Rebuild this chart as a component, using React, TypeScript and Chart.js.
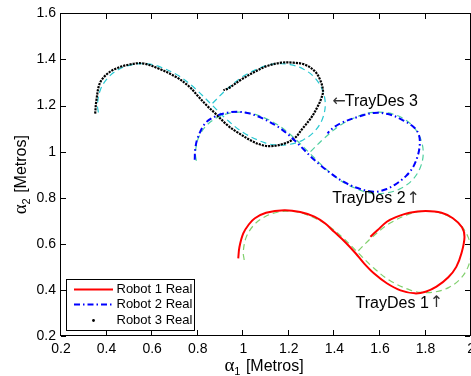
import React, { useEffect, useRef } from "react";
import { Chart, registerables } from "chart.js";

Chart.register(...registerables);

// Axis ticks
const X_TICKS = [0.2, 0.4, 0.6, 0.8, 1.0, 1.2, 1.4, 1.6, 1.8, 2.0];
const Y_TICKS = [0.2, 0.4, 0.6, 0.8, 1.0, 1.2, 1.4, 1.6];

// Desired trajectories (TrayDes), [x, y] in metres
const trayDes1: [number, number][] = [
  [1.004, 0.530], [1.000, 0.565], [1.013, 0.629], [1.047, 0.682], [1.097, 0.719],
  [1.154, 0.738], [1.211, 0.741], [1.264, 0.732], [1.357, 0.689], [1.433, 0.630],
  [1.500, 0.565], [1.567, 0.500], [1.643, 0.441], [1.736, 0.398], [1.789, 0.389],
  [1.846, 0.392], [1.903, 0.411], [1.953, 0.448], [1.987, 0.501], [2.000, 0.565],
  [1.987, 0.629], [1.953, 0.682], [1.903, 0.719], [1.846, 0.738], [1.789, 0.741],
  [1.736, 0.732], [1.643, 0.689], [1.567, 0.630], [1.500, 0.565],
];
const trayDes2: [number, number][] = [
  [0.794, 0.960], [0.790, 0.995], [0.803, 1.059], [0.837, 1.112], [0.887, 1.149],
  [0.944, 1.168], [1.001, 1.171], [1.054, 1.162], [1.147, 1.119], [1.223, 1.060],
  [1.290, 0.995], [1.357, 0.930], [1.433, 0.871], [1.526, 0.828], [1.579, 0.819],
  [1.636, 0.822], [1.693, 0.841], [1.743, 0.878], [1.777, 0.931], [1.790, 0.995],
  [1.777, 1.059], [1.743, 1.112], [1.693, 1.149], [1.636, 1.168], [1.579, 1.171],
  [1.526, 1.162], [1.433, 1.119], [1.357, 1.060], [1.290, 0.995],
];
const trayDes3: [number, number][] = [
  [0.364, 1.170], [0.360, 1.205], [0.373, 1.269], [0.407, 1.322], [0.457, 1.359],
  [0.514, 1.378], [0.571, 1.381], [0.624, 1.372], [0.717, 1.329], [0.793, 1.270],
  [0.860, 1.205], [0.927, 1.140], [1.003, 1.081], [1.096, 1.038], [1.149, 1.029],
  [1.206, 1.032], [1.263, 1.051], [1.313, 1.088], [1.347, 1.141], [1.360, 1.205],
  [1.347, 1.269], [1.313, 1.322], [1.263, 1.359], [1.206, 1.378], [1.149, 1.381],
  [1.096, 1.372], [1.003, 1.329], [0.927, 1.270], [0.860, 1.205],
];

// Measured robot paths, [x, y] in metres
const robot1Real: [number, number][] = [
  [0.978, 0.537], [0.983, 0.585], [1.000, 0.645], [1.025, 0.685], [1.051, 0.711],
  [1.100, 0.735], [1.180, 0.746], [1.250, 0.738], [1.312, 0.718], [1.360, 0.688],
  [1.399, 0.652], [1.450, 0.605], [1.493, 0.559], [1.530, 0.515], [1.573, 0.472],
  [1.630, 0.429], [1.690, 0.398], [1.753, 0.385], [1.800, 0.392], [1.848, 0.414],
  [1.900, 0.455], [1.935, 0.500], [1.958, 0.560], [1.971, 0.630], [1.960, 0.672],
  [1.920, 0.711], [1.870, 0.735], [1.800, 0.742], [1.730, 0.735], [1.670, 0.716],
  [1.630, 0.696], [1.590, 0.660], [1.558, 0.631],
];
const robot2Real: [number, number][] = [
  [0.787, 0.965], [0.789, 1.010], [0.800, 1.060], [0.833, 1.123], [0.875, 1.152],
  [0.925, 1.168], [0.978, 1.173], [1.030, 1.165], [1.090, 1.142], [1.152, 1.108],
  [1.200, 1.072], [1.239, 1.036], [1.270, 1.005], [1.300, 0.975], [1.340, 0.940],
  [1.384, 0.906], [1.427, 0.877], [1.490, 0.846], [1.573, 0.826], [1.630, 0.838],
  [1.674, 0.862], [1.715, 0.895], [1.746, 0.934], [1.768, 0.990], [1.775, 1.040],
  [1.770, 1.075], [1.750, 1.105], [1.703, 1.135], [1.640, 1.162], [1.573, 1.168],
  [1.500, 1.150], [1.427, 1.123], [1.384, 1.095], [1.370, 1.079],
];
const robot3Real: [number, number][] = [
  [0.350, 1.165], [0.355, 1.220], [0.370, 1.296], [0.400, 1.335], [0.442, 1.361],
  [0.500, 1.378], [0.558, 1.383], [0.630, 1.360], [0.703, 1.325], [0.760, 1.285],
  [0.804, 1.238], [0.840, 1.200], [0.877, 1.166], [0.930, 1.115], [0.971, 1.086],
  [1.040, 1.045], [1.085, 1.028], [1.123, 1.024], [1.180, 1.035], [1.225, 1.058],
  [1.260, 1.100], [1.300, 1.150], [1.326, 1.195], [1.340, 1.225], [1.350, 1.262],
  [1.338, 1.310], [1.315, 1.348], [1.270, 1.378], [1.220, 1.386], [1.167, 1.386],
  [1.100, 1.370], [1.051, 1.347], [0.990, 1.312], [0.935, 1.275], [0.913, 1.267],
];

const LEGEND_LABELS = ["Robot 1 Real", "Robot 2 Real", "Robot 3 Real"];

// Trajectory annotations: label, arrow, arrow side, anchor x, anchor y (data units)
const NOTES: [string, string, "left" | "right", number, number][] = [
  ["TrayDes 3", "\u2190", "left", 1.391, 1.217],
  ["TrayDes 2", "\u2191", "right", 1.391, 0.797],
  ["TrayDes 1", "\u2191", "right", 1.493, 0.342],
];

const SANS = '"Liberation Sans", Arial, Helvetica, sans-serif';
const SERIF = '"Liberation Serif", "Times New Roman", serif';
const ARROWS = '"DejaVu Sans", sans-serif';

const toXY = (pts: [number, number][]) => pts.map(([x, y]) => ({ x, y }));
const fmt = (v: number | string) => String(+Number(v).toFixed(1));

function drawAxisTitle(ctx: CanvasRenderingContext2D, cx: number, cy: number, sub: string, angle: number) {
  ctx.save();
  ctx.translate(cx, cy);
  ctx.rotate(angle);
  ctx.fillStyle = "#000";
  ctx.textBaseline = "alphabetic";
  ctx.textAlign = "left";
  const fA = `19px ${SERIF}`;
  const fS = `11px ${SANS}`;
  const fT = `16px ${SANS}`;
  const rest = " [Metros]";
  ctx.font = fA; const wA = ctx.measureText("\u03b1").width;
  ctx.font = fS; const wS = ctx.measureText(sub).width + 1;
  ctx.font = fT; const wT = ctx.measureText(rest).width;
  let x = -(wA + wS + wT) / 2;
  const base = 5.5;
  ctx.font = fA; ctx.fillText("\u03b1", x, base); x += wA;
  ctx.font = fS; ctx.fillText(sub, x, base + 4); x += wS;
  ctx.font = fT; ctx.fillText(rest, x, base);
  ctx.restore();
}

const decorPlugin = {
  id: "decor",
  afterDraw(chart: any) {
    const { ctx, chartArea: a, scales } = chart;
    const xs = scales.x, ys = scales.y;
    ctx.save();
    ctx.setLineDash([]);

    // box and inward tick marks on all four sides
    ctx.fillStyle = "#000";
    const L = Math.round(a.left) - 1, R = Math.round(a.right) - 1;
    const T = Math.round(a.top), B = Math.round(a.bottom) - 1;
    ctx.fillRect(L, T, R - L + 1, 1);
    ctx.fillRect(L, B, R - L + 1, 1);
    ctx.fillRect(L, T, 1, B - T + 1);
    ctx.fillRect(R, T, 1, B - T + 1);
    const tl = 5;
    for (const v of X_TICKS) {
      const px = Math.round(xs.getPixelForValue(v)) - 1;
      ctx.fillRect(px, B - tl, 1, tl);
      ctx.fillRect(px, T + 1, 1, tl);
    }
    for (const v of Y_TICKS) {
      const py = Math.round(ys.getPixelForValue(v));
      ctx.fillRect(L + 1, py, tl, 1);
      ctx.fillRect(R - tl, py, tl, 1);
    }

    // annotations
    ctx.textBaseline = "middle";
    ctx.textAlign = "left";
    for (const [t, arrow, side, vx, vy] of NOTES) {
      let x = xs.getPixelForValue(vx);
      const y = ys.getPixelForValue(vy);
      ctx.font = `16px ${ARROWS}`;
      const wArrow = ctx.measureText(arrow).width;
      if (side === "left") {
        ctx.fillStyle = "#333";
        ctx.fillText(arrow, x, y);
        x += wArrow - 1;
      }
      ctx.font = `16px ${SANS}`;
      ctx.fillStyle = "#000";
      ctx.fillText(t, x, y);
      if (side === "right") {
        x += ctx.measureText(t).width + 1;
        ctx.font = `16px ${ARROWS}`;
        ctx.fillStyle = "#333";
        ctx.fillText(arrow, x, y);
      }
    }

    // legend
    const lx = 66.5, ly = 279.5, lw = 128, lh = 51;
    ctx.fillStyle = "#fff";
    ctx.fillRect(lx, ly, lw, lh);
    ctx.strokeStyle = "#000";
    ctx.lineWidth = 1;
    ctx.strokeRect(lx, ly, lw, lh);
    const rows = [289.5, 304.5, 320.5];
    ctx.lineWidth = 2;
    ctx.strokeStyle = "#ff0000";
    ctx.beginPath(); ctx.moveTo(74, rows[0]); ctx.lineTo(113, rows[0]); ctx.stroke();
    ctx.strokeStyle = "#0000ff";
    ctx.setLineDash([6, 3, 1.5, 3]);
    ctx.beginPath(); ctx.moveTo(74, rows[1]); ctx.lineTo(113, rows[1]); ctx.stroke();
    ctx.setLineDash([]);
    ctx.fillStyle = "#000";
    ctx.beginPath(); ctx.arc(93.5, rows[2], 1.4, 0, Math.PI * 2); ctx.fill();
    ctx.font = `13px ${SANS}`;
    ctx.textBaseline = "middle";
    LEGEND_LABELS.forEach((t, i) => ctx.fillText(t, 116.5, rows[i]));

    // axis titles
    drawAxisTitle(ctx, (a.left + a.right) / 2 - 2, 365, "1", 0);
    drawAxisTitle(ctx, 20.5, (a.top + a.bottom) / 2, "2", -Math.PI / 2);

    ctx.restore();
  },
};

export default function App() {
  const ref = useRef<HTMLCanvasElement | null>(null);

  useEffect(() => {
    if (!ref.current) return;
    const tickFont = { family: SANS, size: 14 };
    const desired = (pts: [number, number][], color: string) => ({
      data: toXY(pts),
      showLine: true,
      borderColor: color,
      borderWidth: 1.2,
      borderDash: [6, 4],
      pointRadius: 0,
      tension: 0.35,
      order: 2,
    });
    const chart = new Chart(ref.current, {
      type: "scatter",
      data: {
        datasets: [
          desired(trayDes1, "rgb(130,208,110)"),
          desired(trayDes2, "rgb(80,208,160)"),
          desired(trayDes3, "rgb(40,200,210)"),
          {
            label: LEGEND_LABELS[0],
            data: toXY(robot1Real),
            showLine: true,
            borderColor: "#ff0000",
            borderWidth: 2,
            pointRadius: 0,
            tension: 0.35,
            order: 1,
          },
          {
            label: LEGEND_LABELS[1],
            data: toXY(robot2Real),
            showLine: true,
            borderColor: "#0000ff",
            borderWidth: 2,
            borderDash: [6, 3, 1.5, 3],
            pointRadius: 0,
            tension: 0.35,
            order: 1,
          },
          {
            label: LEGEND_LABELS[2],
            data: toXY(robot3Real),
            showLine: true,
            borderColor: "#000000",
            borderWidth: 2.2,
            borderDash: [2.2, 1],
            pointRadius: 0,
            tension: 0.35,
            order: 1,
          },
        ] as any,
      },
      options: {
        responsive: false,
        animation: false,
        devicePixelRatio: 1,
        layout: { padding: { top: 13, right: 5, left: 0, bottom: 0 } },
        plugins: { legend: { display: false }, tooltip: { enabled: false } },
        scales: {
          x: {
            type: "linear",
            min: 0.2,
            max: 2,
            grid: { display: false, drawTicks: false },
            border: { display: false },
            ticks: {
              stepSize: 0.2,
              autoSkip: false,
              maxRotation: 0,
              padding: 5,
              color: "#000",
              font: tickFont,
              callback: (v: any) => fmt(v),
            },
            afterFit: (s: any) => { s.height = 40; },
          },
          y: {
            type: "linear",
            min: 0.2,
            max: 1.6,
            grid: { display: false, drawTicks: false },
            border: { display: false },
            ticks: {
              stepSize: 0.2,
              autoSkip: false,
              padding: 5,
              color: "#000",
              font: tickFont,
              callback: (v: any) => fmt(v),
            },
            afterFit: (s: any) => { s.width = 61; },
          },
        },
      } as any,
      plugins: [decorPlugin],
    });
    return () => chart.destroy();
  }, []);

  return (
    <div style={{ position: "fixed", left: 0, top: 0, width: 471, height: 376, overflow: "hidden", background: "#fff" }}>
      <canvas ref={ref} width={480} height={376} style={{ display: "block", width: 480, height: 376 }} />
    </div>
  );
}
